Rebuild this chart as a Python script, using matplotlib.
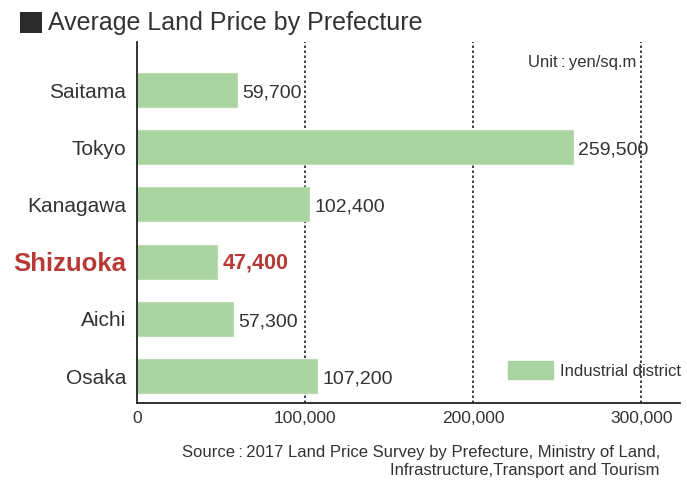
import matplotlib.pyplot as plt
from matplotlib.patches import Patch, Rectangle

prefectures = ["Saitama", "Tokyo", "Kanagawa", "Shizuoka", "Aichi", "Osaka"]
prices = [59700, 259500, 102400, 47400, 57300, 107200]
highlight = "Shizuoka"
xticks = [0, 100000, 200000, 300000]

bar_color = "#a9d4a1"
text_color = "#333333"
red = "#b73a36"

plt.rcParams["font.family"] = ["Liberation Sans", "DejaVu Sans"]

W, H = 687, 482
fig = plt.figure(figsize=(W / 100, H / 100), dpi=100)
ax = fig.add_axes([137 / W, (H - 403) / H, (680 - 137) / W, (403 - 42) / H])

ys = list(range(len(prefectures)))
ax.barh(ys, prices, height=0.595, color=bar_color, edgecolor="#bcdcaf",
        linewidth=0.8, zorder=2)

for y, name, v in zip(ys, prefectures, prices):
    if name == highlight:
        ax.annotate(f"{v:,}", (v, y), xytext=(4.5, -1), textcoords="offset points",
                    va="center", ha="left", fontsize=15.5, fontweight="bold", color=red)
    else:
        ax.annotate(f"{v:,}", (v, y), xytext=(3.5, -2), textcoords="offset points",
                    va="center", ha="left", fontsize=14, color=text_color)

ax.set_yticks(ys)
ax.set_yticklabels(prefectures, fontsize=15, color=text_color)
for lbl in ax.get_yticklabels():
    if lbl.get_text() == highlight:
        lbl.set_color(red)
        lbl.set_fontweight("bold")
        lbl.set_fontsize(18.5)
ax.tick_params(axis="y", length=0, pad=8)

ax.set_xticks(xticks)
ax.set_xticklabels([f"{t:,}" for t in xticks], fontsize=12.5, color=text_color)
ax.tick_params(axis="x", length=0, pad=6)

ax.set_xlim(0, 323000)
ax.set_ylim(5.47, -0.84)

for t in xticks[1:]:
    ax.axvline(t, color="#222222", linestyle=(0, (1.5, 1.5)), linewidth=1.2, zorder=1)

for s in ["top", "right"]:
    ax.spines[s].set_visible(False)
for s in ["left", "bottom"]:
    ax.spines[s].set_color("#222222")
    ax.spines[s].set_linewidth(1.3)

# title with the dark square marker
fig.add_artist(Rectangle((20 / W, 1 - 33 / H), 22 / W, 21 / H, transform=fig.transFigure,
                         facecolor="#2b2b2b", edgecolor="none"))
fig.text(48 / W, 1 - 23 / H, "Average Land Price by Prefecture", fontsize=18,
         color=text_color, va="center", ha="left")

fig.text(636 / W, 1 - 63 / H, "Unit\u2009:\u2009yen/sq.m", fontsize=12,
         color=text_color, ha="right", va="center")

ax.legend(handles=[Patch(facecolor=bar_color, edgecolor=bar_color, label="Industrial district")],
          loc="center left", bbox_to_anchor=(508 / W, 1 - 370 / H),
          bbox_transform=fig.transFigure, frameon=False, fontsize=12,
          handlelength=2.7, handleheight=1.26, handletextpad=0.42,
          borderpad=0, borderaxespad=0, labelcolor=text_color)

fig.text(660 / W, 1 - 453 / H,
         "Source\u2009:\u20092017 Land Price Survey by Prefecture, Ministry of Land,",
         fontsize=12, color=text_color, ha="right", va="center")
fig.text(660 / W, 1 - 470 / H, "Infrastructure,Transport and Tourism",
         fontsize=12, color=text_color, ha="right", va="center")

fig.savefig("out.png", dpi=100)
